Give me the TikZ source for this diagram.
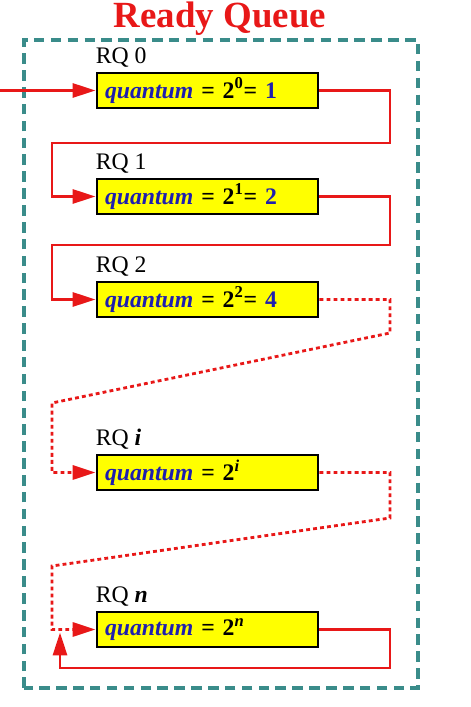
\documentclass[tikz,border=0pt]{standalone}
\usepackage{fontspec}
\setmainfont{Liberation Serif}
\usepackage{xcolor}
\usepackage{tikz}
\usetikzlibrary{arrows.meta,positioning,calc}
\definecolor{qred}{RGB}{232,24,24}
\definecolor{qteal}{RGB}{58,140,138}
\definecolor{qblue}{RGB}{30,30,175}
\definecolor{qyellow}{RGB}{255,255,0}
\tikzstyle{queue} = [rectangle, draw=black, line width=1.7pt, fill=qyellow, minimum width=4.42cm, minimum height=0.7cm, text width=4.1cm, inner xsep=0.16cm, inner ysep=0pt, align=left, font=\fontsize{13.5}{16}\selectfont\bfseries]
\tikzstyle{rqlabel} = [anchor=south west, inner sep=0pt, font=\fontsize{13.5}{15}\selectfont]
\tikzstyle{arrow} = [qred, line width=1.5pt, -{Triangle[length=13pt,width=8pt]}]
\tikzstyle{dotarrow} = [qred, line width=1.6pt, dash pattern=on 2.2pt off 1.8pt, -{Triangle[length=13pt,width=8pt]}]
\newcommand{\quant}{{\itshape\color{qblue}quantum}}

\begin{document}
\begin{tikzpicture}
		\useasboundingbox (0,0) rectangle (9.4,14.14);
		\coordinate (title) at (4.4,13.76);
		\coordinate (rq0) at (4.15,12.33);
		\coordinate (rq1) at (4.15,10.21);
		\coordinate (rq2) at (4.15,8.15);
		\coordinate (rqi) at (4.15,4.69);
		\coordinate (rqn) at (4.15,1.55);
		\coordinate (entry) at (0,12.33);
		\coordinate (lturn) at (1.04,0);
		\coordinate (rturn) at (7.8,0);
		\coordinate (gap01) at (0,11.28);
		\coordinate (gap12) at (0,9.24);
		\coordinate (bend2r) at (0,7.48);
		\coordinate (bend2l) at (0,6.08);
		\coordinate (bendir) at (0,3.78);
		\coordinate (bendil) at (0,2.82);
		\coordinate (loopl) at (1.2,0.78);
		\coordinate (loopend) at (1.2,1.49);
		% Frame
		\draw[qteal, line width=2pt, dash pattern=on 6pt off 3.6pt] (0.48,0.38) rectangle (8.36,13.34);
		\node[name=title, text=qred, font=\fontsize{21}{24}\selectfont\bfseries] at (title) {Ready Queue};
		% Queues
		\begin{scope}[every node/.style={queue}]
		\node[name=rq0] at (rq0) {\quant{} = 2\textsuperscript{0}= {\color{qblue}1}};
		\node[name=rq1] at (rq1) {\quant{} = 2\textsuperscript{1}= {\color{qblue}2}};
		\node[name=rq2] at (rq2) {\quant{} = 2\textsuperscript{2}= {\color{qblue}4}};
		\node[name=rqi] at (rqi) {\quant{} = 2\textsuperscript{\itshape i}};
		\node[name=rqn] at (rqn) {\quant{} = 2\textsuperscript{\itshape n}};
		\end{scope}
		% Labels
		\node[rqlabel] (lab0) at ([yshift=2pt]rq0.north west) {RQ 0};
		\node[rqlabel] (lab1) at ([yshift=2pt]rq1.north west) {RQ 1};
		\node[rqlabel] (lab2) at ([yshift=2pt]rq2.north west) {RQ 2};
		\node[rqlabel] (labi) at ([yshift=2pt]rqi.north west) {RQ \textbf{\textit{i}}};
		\node[rqlabel] (labn) at ([yshift=2pt]rqn.north west) {RQ \textbf{\textit{n}}};
		% Arrows
		\draw [arrow] (entry) -- (rq0.west);
		\draw [arrow] (rq0.east) -| (rturn |- gap01) -| (lturn |- rq1) -- (rq1.west);
		\draw [arrow] (rq1.east) -| (rturn |- gap12) -| (lturn |- rq2) -- (rq2.west);
		\draw [dotarrow] (rq2.east) -| (rturn |- bend2r) -- (lturn |- bend2l) |- (rqi.west);
		\draw [dotarrow] (rqi.east) -| (rturn |- bendir) -- (lturn |- bendil) |- (rqn.west);
		\draw [arrow] (rqn.east) -| (rturn |- loopl) -- (loopl) -- (loopend);
\end{tikzpicture}
\end{document}
